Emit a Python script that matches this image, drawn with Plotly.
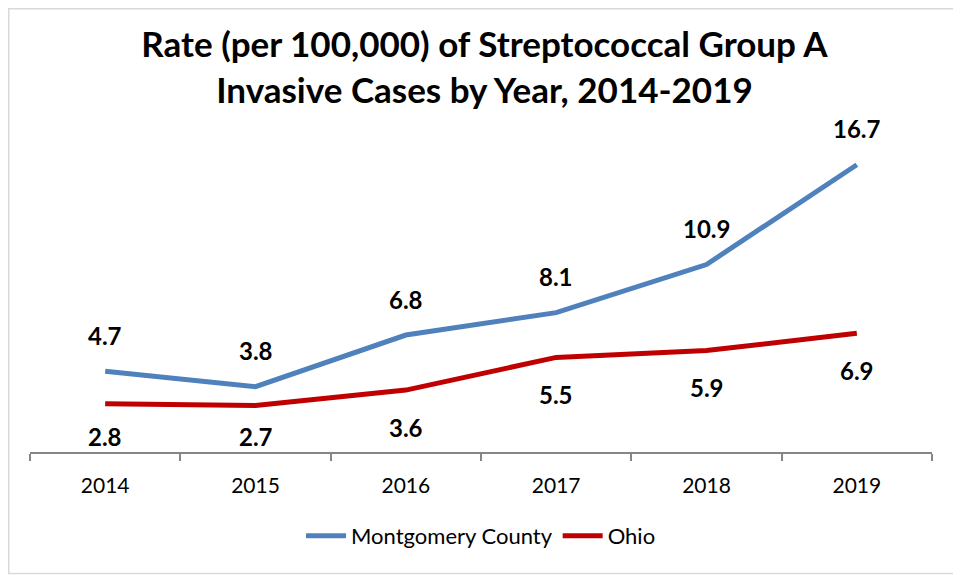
import plotly.graph_objects as go

years = ["2014", "2015", "2016", "2017", "2018", "2019"]
montgomery = [4.7, 3.8, 6.8, 8.1, 10.9, 16.7]
ohio = [2.8, 2.7, 3.6, 5.5, 5.9, 6.9]

# page has an 8px body margin; the figure is shifted right/down by it
OFF = 8
W, H = 961 - OFF, 575 - OFF
ml, mr, mt, mb = 30 - OFF, 29, 108 - OFF, 123
pw, ph = W - ml - mr, H - mt - mb
YMAX = 20
pxu = ph / YMAX  # pixels per unit

FONT = "Lato"
fig = go.Figure()
fig.add_trace(go.Scatter(x=years, y=montgomery, mode="lines", name="Montgomery County",
                         line=dict(color="#4F81BD", width=5)))
fig.add_trace(go.Scatter(x=years, y=ohio, mode="lines", name="Ohio",
                         line=dict(color="#C00000", width=5)))

for i, v in enumerate(montgomery):
    fig.add_annotation(x=i, y=v, text=f"<b>{v:.1f}</b>", showarrow=False, yshift=36,
                       font=dict(family=FONT, size=24, color="black"))
for i, v in enumerate(ohio):
    # below the line, but kept inside the plot area (above the axis)
    shift = -min(37, v * pxu - 16)
    fig.add_annotation(x=i, y=v, text=f"<b>{v:.1f}</b>", showarrow=False, yshift=shift,
                       font=dict(family=FONT, size=24, color="black"))

# outer chart frame
fig.add_shape(type="rect", xref="paper", yref="paper",
              x0=(0.75 - ml) / pw, x1=(W - 2.5 - ml) / pw,
              y0=-(mb - 1.5) / ph, y1=(H - 0.75 - mb) / ph,
              line=dict(color="#D9D9D9", width=1.5), fillcolor="rgba(0,0,0,0)", layer="below")

fig.update_layout(
    width=W, height=H,
    margin=dict(l=ml, r=mr, t=mt, b=mb),
    paper_bgcolor="white", plot_bgcolor="white",
    title=dict(text="<b>Rate (per 100,000) of Streptococcal Group A<br>Invasive Cases by Year, 2014-2019</b>",
               x=0.5, xanchor="center", y=1 - (57 - OFF) / H, yanchor="top",
               font=dict(family=FONT, size=35, color="black")),
    xaxis=dict(type="category", showline=True, linecolor="#868686", linewidth=1.5,
               ticks="outside", ticklen=7, tickcolor="#868686", tickwidth=1.5,
               tickson="boundaries", showgrid=False, range=[-0.5, 5.5],
               ticklabelstandoff=14,
               tickfont=dict(family=FONT, size=21, color="black")),
    yaxis=dict(range=[0, YMAX], visible=False, showgrid=False, zeroline=False),
    legend=dict(orientation="h", x=0.5, xanchor="center", y=-(536 - 452) / ph, yanchor="middle",
                font=dict(family=FONT, size=22, color="black"), itemwidth=40),
    showlegend=True,
)

fig.write_html("out.html")
